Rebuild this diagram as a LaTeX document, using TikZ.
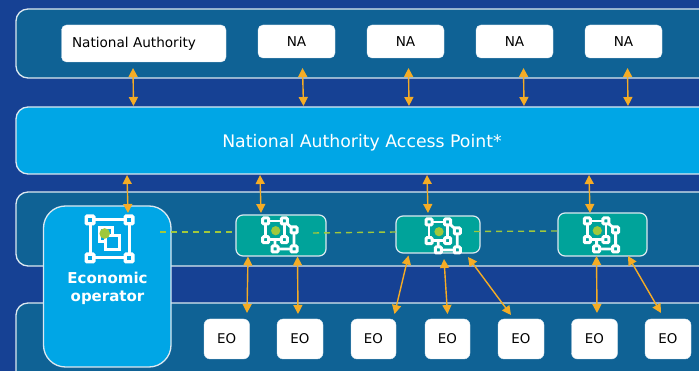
\documentclass[tikz,border=0pt]{standalone}
\usepackage{fontspec}
\setmainfont{DejaVu Sans}
\usetikzlibrary{arrows.meta}
\definecolor{bgblue}{HTML}{164194}
\definecolor{bandblue}{HTML}{0F6295}
\definecolor{skyblue}{HTML}{00A6E6}
\definecolor{tealbox}{HTML}{00A39A}
\definecolor{arrowor}{HTML}{F5AC25}
\definecolor{dotgreen}{HTML}{A0C83C}
\definecolor{edgewhite}{HTML}{DCE8F0}
\newcommand{\boxat}[6]{\node[#1,minimum width=#4-#3,minimum height=#6-#5,anchor=north west] at (#3,#5)}
\newcommand{\lowered}[1]{\raisebox{-1.2pt}{#1}}
\tikzset{
  x=1pt,y=-1pt,
  band/.style={draw=edgewhite,line width=1.3pt,fill=bandblue,rounded corners=12pt,inner sep=0,outer sep=0},
  accesspoint/.style={draw=edgewhite,line width=1.3pt,fill=skyblue,rounded corners=12pt,inner sep=0,outer sep=0,text=white,font=\fontsize{17.3}{20}\selectfont},
  eco/.style={draw=edgewhite,line width=1.3pt,fill=skyblue,rounded corners=22pt,inner sep=0,outer sep=0},
  whitebox/.style={fill=white,draw=edgewhite,line width=.4pt,rounded corners=5pt,inner sep=0,outer sep=0,text=black,font=\fontsize{13.6}{16}\selectfont},
  eobox/.style={whitebox,rounded corners=6pt,font=\fontsize{13.4}{16}\selectfont},
  chainbox/.style={draw=edgewhite,line width=1.2pt,fill=tealbox,rounded corners=7pt,inner sep=0,outer sep=0},
  twoway/.style={draw=arrowor,line width=1.4pt,{Triangle[width=9pt,length=9pt]}-{Triangle[width=9pt,length=9pt]}},
  ledger/.style={draw=dotgreen,line width=1.4pt,dash pattern=on 6pt off 5pt},
  iconline/.style={draw=white,line width=2.8pt},
  iconsq/.style={draw=white,line width=3pt,fill=#1,rounded corners=1pt},
  pics/chainicon/.style={code={
    \draw[iconline] (-10,-9.7) rectangle (8.6,9);
    \draw[iconline] (8.6,-9.7) -- (18.3,-.7) -- (18.3,18.3) -- (-.7,18.3) -- (-.7,9);
    \foreach \a/\b in {-10/-9.7,8.6/-9.7,-10/9,8.6/9,18.3/-.7,-.7/18.3,18.3/18.3}
      \draw[iconsq=tealbox] (\a-3,\b-3) rectangle (\a+3,\b+3);
    \fill[dotgreen] (0,0) circle (4.6);
  }}
}
\begin{document}
\begin{tikzpicture}
\useasboundingbox (0,0) rectangle (699,371);
\clip (0,0) rectangle (699,371);
\fill[bgblue] (0,0) rectangle (699,371);

% bands
\boxat{band}{top}{16}{715}{9}{78} (bandtop) {};
\boxat{band}{chain}{16}{715}{192}{266} (bandchain) {};
\boxat{band}{eos}{16}{715}{303}{395} (bandeo) {};
\boxat{accesspoint}{ap}{16}{715}{107}{174} (ap) {};
\node[accesspoint,draw=none,fill=none] (aptext) at (362,142.5) {National Authority Access Point*};

% authorities
\boxat{whitebox}{}{61.5}{226}{25}{62} (nat) {};
\node[font=\fontsize{13.6}{16}\selectfont] (nattext) at (134,44) {National Authority};
\boxat{whitebox}{}{258}{335}{25}{58} (nb) {\lowered{NA}};
\boxat{whitebox}{}{367}{444}{25}{58} (nc) {\lowered{NA}};
\boxat{whitebox}{}{476}{553}{25}{58} (nd) {\lowered{NA}};
\boxat{whitebox}{}{585}{662}{25}{58} (ne) {\lowered{NA}};

% economic operator
\boxat{eco}{}{43.5}{171}{206}{367} (eco) {};
\node[text=white,font=\bfseries\fontsize{15}{18.5}\selectfont,align=center] (ecotext) at (107.5,288.5) {Economic\\operator};

% blockchain nodes
\boxat{chainbox}{}{236}{326}{215}{256} (cha) {};
\boxat{chainbox}{}{396}{480}{216}{253} (chb) {};
\boxat{chainbox}{}{558}{647}{213}{256} (chc) {};

% economic operators row
\boxat{eobox}{}{204}{249.5}{319}{359} (ea) {\lowered{EO}};
\boxat{eobox}{}{277}{323}{319}{359} (eb) {\lowered{EO}};
\boxat{eobox}{}{351}{396}{319}{359} (ec) {\lowered{EO}};
\boxat{eobox}{}{425}{470}{319}{359} (ed) {\lowered{EO}};
\boxat{eobox}{}{498}{544}{319}{359} (ee) {\lowered{EO}};
\boxat{eobox}{}{571.5}{617.5}{319}{359} (ef) {\lowered{EO}};
\boxat{eobox}{}{645}{691}{319}{359} (eg) {\lowered{EO}};

% icons
\draw[draw=white,line width=3pt] (90,220) rectangle (129,258);
\foreach \a/\b in {90/220,129/220,90/258,129/258}
  \draw[iconsq=skyblue,line width=3.4pt] (\a-3.8,\b-3.8) rectangle (\a+3.8,\b+3.8);
\draw[draw=white,line width=3pt] (99,228) rectangle (112.5,242);
\draw[draw=white,line width=3pt,fill=skyblue] (105,235.5) rectangle (119.5,249.5);
\fill[dotgreen] (104.7,233.5) circle (5.3);
\pic at (275.7,230.7) {chainicon};
\pic at (439,231.7) {chainicon};
\pic at (597.3,230.7) {chainicon};

% ledger links
\coordinate (la) at (160,232);
\coordinate (lb) at (234,232);
\coordinate (lc) at (313,233);
\coordinate (ld) at (396,232);
\coordinate (le) at (474,231.5);
\coordinate (lf) at (558,231);
\draw[ledger] (la) -- (lb);
\draw[ledger] (lc) -- (ld);
\draw[ledger] (le) -- (lf);

% two-way arrows
\foreach \n/\xa/\ya/\xb/\yb in {
  a/133/68/133.5/106, b/302.5/68/303.5/106, c/408.5/68/409/106, d/523.5/68/524/106, e/627.5/68/628/106,
  f/127/175/128/213, g/260/175/261/213, h/427/175/428/213, i/589/175/590/213,
  j/248/256.5/247/313, k/297.5/256.5/298/314,
  l/408.5/255.5/394.5/314, m/444/259/447.5/314, n/468/257/511/315,
  o/596.5/256/597/313, p/628/256/661/313}
{
  \coordinate (s\n) at (\xa,\ya);
  \coordinate (t\n) at (\xb,\yb);
  \draw[twoway] (s\n) -- (t\n);
}
\end{tikzpicture}
\end{document}
